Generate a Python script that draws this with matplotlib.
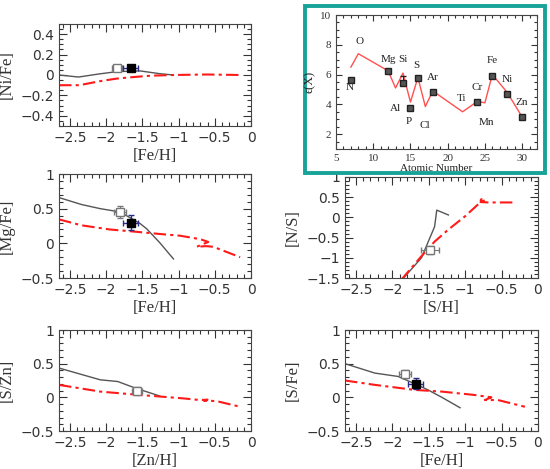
import numpy as np
import matplotlib.pyplot as plt
from matplotlib.patches import Rectangle
from matplotlib.ticker import MultipleLocator

# ---- [Ni/Fe] vs [Fe/H]
ni_mod_x = [-2.65, -2.38, -2.1, -1.85, -1.53, -1.26, -1.07]
ni_mod_y = [0.0, -0.02, 0.01, 0.033, 0.04, 0.013, 0.0]
ni_red_x = [-2.65, -2.37, -2.08, -1.85, -1.62, -1.39, -1.07, -0.61, -0.15]
ni_red_y = [-0.1, -0.1, -0.06, -0.035, -0.02, -0.007, 0.0, 0.005, 0.0]

# ---- [Mg/Fe] vs [Fe/H]
mg_mod_x = [-2.65, -2.34, -2.08, -1.85, -1.72, -1.53, -1.44, -1.26, -1.07]
mg_mod_y = [0.66, 0.56, 0.5, 0.46, 0.4, 0.285, 0.21, 0.01, -0.225]
mg_red_x = [-2.65, -2.34, -1.95, -1.62, -1.26, -0.98, -0.70, -0.59, -0.66, -0.75, -0.62, -0.52, -0.15]
mg_red_y = [0.345, 0.26, 0.2, 0.17, 0.135, 0.11, 0.06, 0.02, -0.01, -0.05, -0.04, -0.05, -0.2]

# ---- [N/S] vs [S/H]
ns_mod_x = [-1.87, -1.6, -1.42, -1.39, -1.23]
ns_mod_y = [-1.55, -1.0, -0.23, 0.18, 0.06]
ns_red_x = [-1.88, -1.6, -1.42, -1.23, -1.0, -0.8, -0.78, -0.72, -0.79, -0.68, -0.32]
ns_red_y = [-1.55, -0.96, -0.6, -0.3, 0.03, 0.36, 0.45, 0.43, 0.38, 0.37, 0.37]

# ---- [S/Zn] vs [Zn/H]
sz_mod_x = [-2.65, -2.08, -1.84, -1.59, -1.26]
sz_mod_y = [0.435, 0.26, 0.235, 0.135, 0.02]
sz_red_x = [-2.65, -2.08, -1.53, -0.94, -0.71, -0.6, -0.65, -0.48, -0.15]
sz_red_y = [0.185, 0.085, 0.035, -0.015, -0.04, -0.035, -0.05, -0.055, -0.14]

# ---- [S/Fe] vs [Fe/H]
sf_mod_x = [-2.65, -2.24, -1.92, -1.69, -1.51, -1.32, -1.07]
sf_mod_y = [0.5, 0.36, 0.31, 0.2, 0.11, 0.0, -0.155]
sf_red_x = [-2.65, -2.24, -1.69, -1.32, -0.87, -0.64, -0.73, -0.55, -0.18]
sf_red_y = [0.25, 0.185, 0.11, 0.085, 0.035, 0.0, -0.04, -0.04, -0.14]

# observed points: (x, y, xerr, yerr)
obs_open = {
    'ni': (-1.845, 0.065, 0.07, 0.03),
    'mg': (-1.81, 0.45, 0.08, 0.09),
    'ns': (-1.48, -0.81, 0.12, 0.1),
    'sz': (-1.57, 0.1, 0.07, 0.06),
    'sf': (-1.83, 0.345, 0.08, 0.06),
}
obs_fill = {
    'ni': (-1.66, 0.07, 0.1, 0.03),
    'mg': (-1.66, 0.3, 0.1, 0.11),
    'sf': (-1.68, 0.2, 0.1, 0.08),
}

# ---- inset: abundances vs atomic number
el_names = ['N', 'O', 'Mg', 'Al', 'Si', 'P', 'S', 'Cl', 'Ar', 'Ti', 'Cr', 'Mn', 'Fe', 'Ni', 'Zn']
el_z = [7, 8, 12, 13, 14, 15, 16, 17, 18, 22, 24, 25, 26, 28, 30]
el_model = [6.5, 7.4, 6.25, 5.1, 6.1, 4.15, 5.8, 3.85, 4.9, 3.5, 4.2, 4.1, 6.0, 4.8, 3.15]
lab_x = [6.8, 8.1, 12.1, 13.0, 14.0, 14.8, 15.8, 16.9, 18.0, 21.9, 24.0, 25.2, 26.0, 28.0, 30.0]
lab_y = [5.15, 8.25, 7.0, 3.7, 7.0, 2.85, 6.6, 2.55, 5.8, 4.4, 5.15, 2.75, 6.95, 5.7, 4.1]
obs_z = [7, 12, 14, 15, 16, 18, 24, 26, 28, 30]
obs_eps = [5.65, 6.25, 5.4, 3.75, 5.75, 4.8, 4.15, 5.9, 4.7, 3.15]
obs_err_lo = [0.1, 0.08, 0.1, 0.1, 0.1, 0.1, 0.08, 0.08, 0.1, 0.08]
obs_err_hi = [0.1, 0.08, 0.5, 0.1, 0.1, 0.1, 0.08, 0.08, 0.1, 0.08]

W, H = 550, 469
fig = plt.figure(figsize=(W / 100, H / 100), dpi=100)

def pax(x0, y0, x1, y1):
    return fig.add_axes([x0 / W, 1 - y1 / H, (x1 - x0) / W, (y1 - y0) / H])

serif = 'Liberation Serif'
red = '#ff1a1a'
gray = '#555555'
navy = '#2b2b8c'

def style(ax, xminor, yminor, size=10):
    ax.xaxis.set_minor_locator(MultipleLocator(xminor))
    ax.yaxis.set_minor_locator(MultipleLocator(yminor))
    ax.tick_params(which='both', direction='in', top=True, right=True, colors='#333333',
                   labelcolor='#333333', labelsize=size, width=0.8)
    ax.tick_params(which='major', length=5.5)
    ax.tick_params(which='minor', length=3)
    for s in ax.spines.values():
        s.set_color('#444444')
        s.set_linewidth(0.8)

def panel(ax, mx, my, rx, ry, key, ylim, yticks, yminor, xlabel, ylabel):
    ax.plot(mx, my, color=gray, lw=1.0)
    ax.plot(rx, ry, color=red, lw=1.5, ls=(0, (6, 2, 1.5, 2)))
    x, y, xe, ye = obs_open[key]
    ax.errorbar(x, y, xerr=xe, yerr=ye, fmt='s', mfc='white', mec='#777777', ms=6,
                ecolor='#777777', elinewidth=0.8, capsize=2.5, zorder=5)
    if key in obs_fill:
        x, y, xe, ye = obs_fill[key]
        ax.errorbar(x, y, xerr=xe, yerr=ye, fmt='s', color='black', ms=6,
                    ecolor=navy, elinewidth=1.0, capsize=2.5, zorder=6)
    ax.set_xlim(-2.65, 0)
    ax.set_ylim(*ylim)
    ax.set_xticks([-2.5, -2, -1.5, -1, -0.5, 0])
    ax.set_xticklabels(['\u22122.5', '\u22122', '\u22121.5', '\u22121', '\u22120.5', '0'])
    ax.set_yticks(yticks)
    ax.set_yticklabels([('\u2212' + f'{abs(v):g}') if v < 0 else f'{v:g}' for v in yticks])
    style(ax, 0.1, yminor)
    ax.set_xlabel(xlabel, family=serif, fontsize=12, color='#333333', labelpad=2)
    ax.set_ylabel(ylabel, family=serif, fontsize=12, color='#333333', labelpad=4)

ax1 = pax(59, 24, 251, 126)
panel(ax1, ni_mod_x, ni_mod_y, ni_red_x, ni_red_y, 'ni', (-0.5, 0.5),
      [-0.4, -0.2, 0, 0.2, 0.4], 0.05, '[Fe/H]', '[Ni/Fe]')

ax2 = pax(59, 174, 251, 278)
panel(ax2, mg_mod_x, mg_mod_y, mg_red_x, mg_red_y, 'mg', (-0.5, 1.0),
      [-0.5, 0, 0.5, 1], 0.1, '[Fe/H]', '[Mg/Fe]')

ax3 = pax(345, 177, 538, 278)
panel(ax3, ns_mod_x, ns_mod_y, ns_red_x, ns_red_y, 'ns', (-1.5, 1.0),
      [-1.5, -1, -0.5, 0, 0.5, 1], 0.1, '[S/H]', '[N/S]')

ax4 = pax(59, 330, 251, 431)
panel(ax4, sz_mod_x, sz_mod_y, sz_red_x, sz_red_y, 'sz', (-0.5, 1.0),
      [-0.5, 0, 0.5, 1], 0.1, '[Zn/H]', '[S/Zn]')

ax5 = pax(345, 330, 538, 431)
panel(ax5, sf_mod_x, sf_mod_y, sf_red_x, sf_red_y, 'sf', (-0.5, 1.0),
      [-0.5, 0, 0.5, 1], 0.1, '[Fe/H]', '[S/Fe]')

# inset with teal frame
frame = Rectangle((305 / W, 1 - 173 / H), 240 / W, 167 / H, transform=fig.transFigure,
                  fill=True, facecolor='white', edgecolor='#17a398', lw=2.8, zorder=1)
fig.add_artist(frame)
axi = pax(336, 15, 537, 149)
axi.set_zorder(2)
axi.plot(el_z, el_model, color='#ff5050', lw=1.0)
axi.errorbar(obs_z, obs_eps, yerr=[obs_err_lo, obs_err_hi], fmt='s', color='#222222', ms=4,
             mfc='#555555', ecolor='#222222', elinewidth=0.7, capsize=2, zorder=5)
for n, x, y in zip(el_names, lab_x, lab_y):
    axi.text(x, y, n, family=serif, fontsize=8, ha='center', va='center', color='#222222')
axi.set_xlim(5, 32)
axi.set_ylim(1, 10)
axi.set_xticks([5, 10, 15, 20, 25, 30])
axi.set_yticks([2, 4, 6, 8, 10])
style(axi, 1, 0.5, size=8)
axi.tick_params(which='major', length=4)
axi.tick_params(which='minor', length=2)
for lbl in axi.get_xticklabels() + axi.get_yticklabels():
    lbl.set_family(serif)
axi.set_xlabel('Atomic Number', family=serif, fontsize=8, color='#222222', labelpad=1)
axi.set_ylabel('\u03f5(X)', family=serif, fontsize=9, color='#222222', labelpad=3)

fig.savefig('out.png', dpi=100)
